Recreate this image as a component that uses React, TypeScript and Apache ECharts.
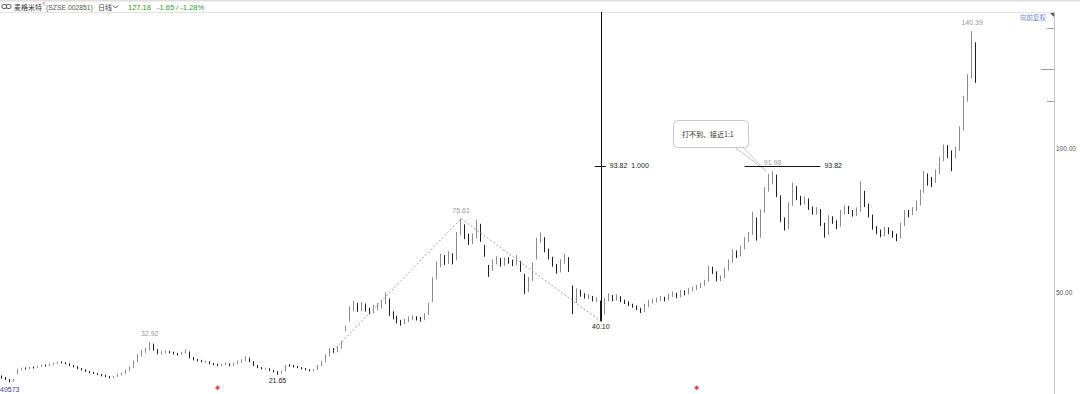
import React, { useEffect, useRef } from "react";
import * as echarts from "echarts";

// daily candles: [open, close, low, high]
const candles: number[][] = [
  [21.0, 20.7, 20.3, 21.4], [20.7, 20.0, 19.8, 20.9], [20.0, 19.3, 19.0, 20.2], [19.4, 20.0, 19.2, 20.3],
  [22.0, 23.4, 21.8, 23.7], [23.4, 23.8, 23.2, 24.1], [23.9, 23.8, 23.5, 24.2], [23.8, 24.1, 23.6, 24.4],
  [24.2, 24.1, 23.8, 24.5], [24.1, 24.5, 24.0, 24.8], [24.5, 24.8, 24.3, 25.1], [24.9, 24.8, 24.5, 25.2],
  [24.8, 25.2, 24.7, 25.5], [25.2, 25.5, 25.0, 25.8], [25.5, 25.9, 25.3, 26.2], [26.0, 25.9, 25.6, 26.3],
  [25.9, 25.5, 25.3, 26.0], [25.5, 24.8, 24.6, 25.6], [24.8, 24.5, 24.2, 25.0], [24.5, 23.8, 23.6, 24.6],
  [23.8, 23.4, 23.1, 24.0], [23.4, 22.8, 22.6, 23.5], [22.8, 22.4, 22.1, 23.0], [22.4, 22.1, 21.9, 22.6],
  [22.1, 21.7, 21.5, 22.2], [21.7, 21.4, 21.1, 21.9], [21.4, 21.0, 20.8, 21.6], [21.0, 20.7, 20.4, 21.2],
  [20.7, 21.0, 20.5, 21.3], [21.0, 21.7, 20.9, 22.0], [21.7, 22.1, 21.5, 22.4], [22.2, 23.1, 22.0, 23.4],
  [23.1, 24.1, 22.9, 24.5], [24.2, 26.2, 24.0, 26.6], [26.3, 28.3, 26.0, 28.8], [28.2, 29.7, 27.9, 30.2],
  [29.6, 30.3, 29.2, 31.0], [30.4, 32.1, 30.0, 32.92], [32.0, 30.3, 30.0, 32.4], [30.2, 29.0, 28.7, 30.5],
  [29.0, 29.3, 28.6, 29.8], [29.2, 29.7, 29.0, 30.1], [29.7, 29.3, 29.0, 29.9], [29.3, 29.0, 28.7, 29.6],
  [29.0, 28.6, 28.3, 29.2], [28.7, 29.3, 28.5, 29.6], [29.2, 29.7, 29.0, 30.4], [29.5, 27.6, 27.3, 29.7],
  [27.6, 26.9, 26.6, 27.8], [26.9, 26.6, 26.3, 27.1], [26.6, 26.2, 26.0, 26.8], [26.1, 26.2, 25.8, 26.5],
  [26.2, 25.5, 25.3, 26.3], [25.5, 25.2, 24.9, 25.7], [25.2, 24.8, 24.6, 25.4], [24.8, 25.2, 24.6, 25.5],
  [25.2, 25.5, 25.0, 25.8], [25.4, 24.8, 24.6, 25.6], [24.9, 25.5, 24.7, 25.8], [25.5, 26.2, 25.3, 26.6],
  [26.1, 26.6, 25.8, 27.0], [26.6, 27.6, 26.3, 28.0], [27.4, 26.2, 26.0, 27.6], [26.2, 24.8, 24.6, 26.4],
  [24.8, 24.1, 23.9, 25.0], [24.1, 23.8, 23.5, 24.3], [23.7, 23.8, 23.4, 24.1], [23.8, 23.1, 22.9, 23.9],
  [23.1, 22.8, 22.5, 23.3], [22.8, 22.4, 21.65, 22.9], [22.3, 22.8, 22.0, 23.1], [22.9, 24.8, 22.8, 25.1],
  [24.9, 24.8, 24.4, 25.3], [24.8, 24.5, 24.2, 25.0], [24.5, 24.1, 23.9, 24.7], [24.1, 23.8, 23.5, 24.3],
  [23.8, 23.4, 23.2, 24.0], [23.4, 23.1, 22.8, 23.6], [23.1, 23.4, 22.9, 23.7], [23.5, 24.8, 23.3, 25.1],
  [24.9, 26.2, 24.6, 26.5], [26.3, 28.3, 26.0, 28.7], [28.4, 30.3, 28.0, 30.8], [30.2, 29.7, 29.2, 30.9],
  [29.8, 31.0, 29.4, 31.6], [31.0, 32.8, 30.7, 33.4], [37.0, 37.9, 36.6, 38.6], [40.5, 44.1, 40.0, 45.3],
  [44.2, 45.9, 43.6, 47.2], [45.8, 44.1, 43.4, 46.5], [44.0, 45.9, 43.6, 46.8], [45.7, 44.1, 43.5, 46.3],
  [44.3, 43.1, 42.5, 44.8], [43.0, 44.8, 42.8, 45.8], [44.7, 45.2, 44.0, 46.4], [45.0, 46.2, 44.6, 47.6],
  [46.3, 49.0, 46.0, 50.1], [47.5, 42.4, 42.0, 48.0], [42.6, 41.4, 40.8, 43.6], [41.5, 40.0, 39.4, 42.0],
  [40.2, 39.3, 38.6, 40.6], [39.4, 40.3, 39.0, 41.0], [40.2, 41.0, 39.8, 41.8], [41.0, 41.4, 40.5, 42.2],
  [41.5, 41.0, 40.4, 41.9], [41.1, 40.7, 40.0, 41.6], [40.8, 42.4, 40.5, 43.0], [42.5, 45.9, 42.3, 46.5],
  [47.0, 54.5, 46.8, 55.3], [55.0, 59.7, 54.6, 60.8], [59.5, 62.1, 58.8, 63.5], [62.0, 60.7, 59.6, 63.0],
  [60.5, 62.8, 60.0, 64.3], [62.9, 60.7, 59.8, 63.6], [61.5, 70.0, 61.2, 71.0], [70.2, 73.4, 69.8, 75.61],
  [73.0, 69.3, 68.5, 73.6], [69.5, 68.3, 66.5, 70.4], [68.2, 69.0, 66.8, 70.5], [69.2, 73.4, 68.8, 75.3],
  [73.0, 68.3, 67.6, 73.8], [66.0, 63.1, 62.4, 66.5], [59.0, 57.9, 55.5, 59.6], [58.2, 60.7, 57.6, 61.5],
  [60.5, 61.4, 59.8, 62.6], [61.2, 59.7, 59.0, 62.0], [59.8, 61.4, 59.3, 62.2], [61.5, 60.7, 60.0, 62.3],
  [60.8, 60.0, 59.2, 61.4], [60.1, 60.7, 59.5, 63.0], [60.5, 57.9, 57.2, 61.0], [56.0, 50.3, 49.6, 56.5],
  [50.8, 54.5, 50.2, 55.4], [54.6, 59.7, 54.0, 60.5], [62.0, 68.3, 61.5, 69.0], [68.5, 69.0, 67.2, 70.8],
  [68.6, 64.8, 64.0, 69.2], [64.7, 62.1, 61.5, 65.2], [62.0, 59.7, 59.0, 62.4], [59.5, 57.2, 56.6, 59.9],
  [57.5, 60.7, 57.0, 61.6], [60.5, 62.1, 60.0, 63.4], [61.8, 57.9, 57.2, 62.3], [51.5, 46.5, 42.6, 52.5],
  [47.0, 50.3, 46.5, 51.5], [50.2, 49.3, 48.6, 51.0], [49.2, 48.6, 48.0, 49.8], [48.4, 48.6, 47.8, 49.5],
  [48.5, 47.6, 47.0, 48.9], [47.4, 47.6, 46.8, 48.4], [47.0, 42.4, 40.1, 47.3], [43.0, 47.6, 42.5, 48.2],
  [47.5, 49.0, 47.0, 49.8], [48.8, 47.6, 47.1, 49.2], [47.7, 48.6, 47.3, 49.4], [48.5, 47.2, 46.8, 48.8],
  [47.2, 46.6, 46.1, 47.6], [46.6, 45.9, 45.4, 47.0], [45.9, 45.2, 44.8, 46.2], [45.2, 44.5, 44.0, 45.6],
  [44.4, 43.4, 43.0, 44.8], [43.6, 45.5, 43.3, 46.2], [45.4, 46.9, 45.0, 47.5], [46.8, 47.2, 46.2, 47.9],
  [47.1, 47.6, 46.6, 48.3], [47.6, 48.3, 47.2, 48.9], [48.2, 47.6, 47.0, 48.6], [47.7, 49.0, 47.4, 49.6],
  [49.0, 49.7, 48.5, 50.4], [49.6, 48.6, 48.1, 50.0], [48.7, 50.3, 48.4, 51.0], [50.2, 49.7, 49.1, 50.8],
  [49.8, 51.0, 49.4, 51.6], [50.9, 51.4, 50.4, 52.0], [51.3, 52.1, 50.9, 52.7], [52.0, 52.8, 51.6, 53.4],
  [52.9, 53.8, 52.4, 54.5], [54.0, 58.6, 53.8, 59.4], [58.4, 57.2, 56.5, 59.0], [57.0, 54.5, 53.9, 57.4],
  [54.6, 55.2, 54.0, 56.0], [55.3, 57.9, 55.0, 58.6], [58.0, 60.7, 57.6, 61.5], [60.8, 64.1, 60.3, 65.0],
  [64.0, 62.8, 62.0, 64.6], [62.9, 65.5, 62.5, 66.3], [65.6, 68.3, 65.0, 69.2], [68.2, 70.0, 67.5, 71.0],
  [70.2, 76.9, 70.0, 78.0], [75.5, 69.0, 68.0, 76.0], [69.5, 77.9, 69.0, 78.8], [78.0, 85.5, 77.6, 86.5],
  [85.6, 89.7, 85.0, 91.0], [89.5, 90.7, 87.5, 91.98], [90.2, 83.8, 83.0, 90.8], [83.0, 75.2, 74.5, 83.6],
  [75.0, 72.4, 71.5, 76.0], [72.8, 80.3, 72.0, 81.2], [80.5, 86.2, 80.0, 88.0], [86.0, 82.8, 82.0, 86.8],
  [82.9, 81.0, 80.2, 83.5], [81.0, 82.1, 80.5, 83.2], [82.0, 79.3, 78.6, 82.6], [79.2, 77.9, 77.0, 79.8],
  [77.8, 78.6, 77.0, 79.6], [78.4, 73.8, 73.0, 78.9], [73.6, 70.0, 69.0, 74.2], [70.4, 75.9, 70.0, 76.8],
  [75.8, 74.5, 73.8, 76.4], [74.6, 73.1, 72.0, 75.0], [73.2, 77.9, 72.8, 78.6], [77.8, 79.3, 77.0, 80.2],
  [79.2, 77.9, 77.2, 80.0], [78.0, 77.2, 76.3, 78.6], [77.0, 77.9, 76.5, 79.5], [78.5, 84.8, 78.0, 88.5],
  [84.5, 80.3, 79.6, 85.2], [80.2, 76.9, 76.0, 80.8], [76.6, 72.4, 71.8, 77.0], [72.5, 71.0, 70.2, 73.0],
  [71.2, 70.0, 69.2, 71.8], [70.1, 72.1, 69.5, 72.8], [72.0, 71.0, 70.2, 72.6], [71.0, 69.7, 69.0, 71.4],
  [69.8, 69.0, 67.8, 70.4], [69.2, 73.4, 68.8, 74.2], [73.5, 77.6, 73.0, 78.5], [77.8, 77.2, 76.0, 78.6],
  [77.2, 78.6, 76.8, 79.6], [78.7, 80.7, 78.2, 81.8], [80.8, 84.5, 80.2, 85.6], [84.8, 90.7, 84.5, 92.0],
  [90.5, 89.0, 87.0, 91.2], [89.2, 88.3, 86.5, 90.0], [88.4, 91.4, 88.0, 92.6], [91.6, 95.9, 91.0, 97.0],
  [96.0, 100.0, 95.4, 101.2], [100.2, 98.6, 96.5, 101.0], [98.5, 96.9, 92.0, 99.2], [97.0, 99.3, 96.4, 100.5],
  [99.5, 106.2, 99.0, 107.5], [106.5, 116.6, 106.0, 118.0], [116.8, 124.1, 116.0, 125.5], [124.5, 135.5, 124.0, 140.39],
  [134.8, 127.18, 122.5, 136.5],
];

const totalSlots = 264; // candle slots across the plot, including the empty right margin
const slotLabels = Array.from({ length: totalSlots }, (_, i) => String(i + 1));

const yTickLabels = [50, 100];

// annotation texts anchored in data space: [index, value, text]
const highLabels: [number, number, string][] = [
  [37, 32.92, "32.92"],
  [115, 75.61, "75.61"],
  [193, 91.98, "91.98"],
  [243, 140.39, "140.39"],
];
const lowLabels: [number, number, string][] = [
  [69, 21.65, "21.65"],
  [150, 40.1, "40.10"],
];
const swingFrom = [83, 30.0];
const swingPeak = [115, 75.61];
const swingLow = [150, 40.1];
const targetLine = { from: 186, to: 205, value: 93.82 };
const ratioText = "93.82  1.000";
const noteText = "打不到、接近1:1";
const eventMarks = [
  [54, 17.2],
  [174, 17.2],
];
const rightMarks = [141.4, 127.18, 116.2];

const NUM_FONT = '"Liberation Sans", Arial, sans-serif';
const CJK_FONT = '"Noto Sans CJK SC", "Liberation Sans", sans-serif';

export default function App() {
  const ref = useRef<HTMLDivElement>(null);

  useEffect(() => {
    document.body.style.margin = "0";
    const el = ref.current!;
    const chart = echarts.init(el, null, { renderer: "svg" });
    const dotted = { color: "#a0a0a0", type: [2, 2] as any, width: 1 };
    const solid = { color: "#111", type: "solid" as any, width: 1 };
    chart.setOption({
      animation: false,
      backgroundColor: "#ffffff",
      grid: { left: -2, right: 26, top: 12, bottom: 0 },
      xAxis: {
        type: "category",
        data: slotLabels,
        boundaryGap: true,
        axisLine: { show: false },
        axisTick: { show: false },
        axisLabel: { show: false },
        splitLine: { show: false },
      },
      yAxis: {
        type: "value",
        position: "right",
        min: 15,
        max: 147,
        interval: 5,
        axisLine: { show: true, lineStyle: { color: "#c4c4c4" } },
        axisTick: { show: false },
        splitLine: { show: false },
        axisLabel: {
          margin: 2,
          fontSize: 6.5,
          color: "#555",
          fontFamily: NUM_FONT,
          formatter: (v: number) => (yTickLabels.includes(v) ? v.toFixed(2) : ""),
        },
      },
      series: [
        {
          type: "candlestick",
          data: candles,
          barWidth: 1,
          itemStyle: {
            color: "#ffffff",
            color0: "#1e1e1e",
            borderColor: "#8c8c8c",
            borderColor0: "#1e1e1e",
            borderWidth: 1,
          },
          markLine: {
            silent: true,
            symbol: "none",
            label: { show: false },
            data: [
              [{ coord: swingFrom, lineStyle: dotted }, { coord: swingPeak }],
              [{ coord: swingPeak, lineStyle: dotted }, { coord: swingLow }],
              [{ coord: swingLow, lineStyle: solid }, { coord: [swingLow[0], 147] }],
              [
                { coord: [targetLine.from, targetLine.value], lineStyle: solid },
                { coord: [targetLine.to, targetLine.value] },
              ],
            ],
          },
        },
        {
          type: "scatter",
          data: eventMarks,
          symbol: "diamond",
          symbolSize: 5,
          itemStyle: { color: "#e0201c" },
          silent: true,
        },
      ],
    });

    const px = (i: number, v: number) => chart.convertToPixel({ gridIndex: 0 }, [i, v]) as number[];
    const g: any[] = [];

    // header
    g.push({ type: "rect", shape: { x: 0, y: 0, width: 1080, height: 1.5 }, style: { fill: "#dedede" } });
    g.push({ type: "line", shape: { x1: 0, y1: 12.5, x2: 1054, y2: 12.5 }, style: { stroke: "#e4e4e4", lineWidth: 1 } });
    g.push({ type: "rect", shape: { x: 2, y: 4.5, width: 4.5, height: 4, r: 1.5 }, style: { fill: "none", stroke: "#555", lineWidth: 1 } });
    g.push({ type: "rect", shape: { x: 6.5, y: 4.5, width: 4.5, height: 4, r: 1.5 }, style: { fill: "none", stroke: "#555", lineWidth: 1 } });
    const head = (x: number, text: string, color: string, font = CJK_FONT, size = 7) =>
      g.push({ type: "text", x, y: 7, style: { text, fill: color, font: `${size}px ${font}`, verticalAlign: "middle" } });
    head(14, "麦格米特", "#333");
    g.push({ type: "text", x: 42.5, y: 3.5, style: { text: "R", fill: "#e04040", font: `4px ${NUM_FONT}`, verticalAlign: "middle" } });
    head(46, "(SZSE 002851)", "#555", NUM_FONT, 6.8);
    head(98, "日线", "#444");
    g.push({ type: "polyline", shape: { points: [[113, 5.5], [115.5, 8], [118, 5.5]] }, style: { stroke: "#555", lineWidth: 1, fill: "none" } });
    head(128, "127.18", "#2a9a2a", NUM_FONT, 7.5);
    head(157, "-1.65 / -1.28%", "#2a9a2a", NUM_FONT, 7.5);

    // top right
    g.push({ type: "text", x: 1020, y: 17, style: { text: "向前复权", fill: "#6f82d6", font: `6.5px ${CJK_FONT}`, verticalAlign: "middle" } });
    g.push({ type: "polygon", shape: { points: [[1050, 13], [1054, 13], [1054, 17]] }, style: { fill: "#555" } });

    // short marks on the price axis
    rightMarks.forEach((v, k) => {
      const [ax, ay] = px(totalSlots - 1, v);
      const axisX = ax + 2;
      const len = k === 1 ? 13 : 7;
      g.push({ type: "line", shape: { x1: axisX - len, y1: Math.round(ay) + 0.5, x2: axisX, y2: Math.round(ay) + 0.5 }, style: { stroke: "#9a9a9a", lineWidth: 1 } });
    });

    // high / low labels
    highLabels.forEach(([i, v, t]) => {
      const [x, y] = px(i, v);
      g.push({ type: "text", x, y: y - 5, style: { text: t, fill: "#999", font: `7px ${NUM_FONT}`, align: "center", verticalAlign: "bottom" } });
    });
    lowLabels.forEach(([i, v, t]) => {
      const [x, y] = px(i, v);
      g.push({ type: "text", x, y: y + 2, style: { text: t, fill: "#222", font: `7px ${NUM_FONT}`, align: "center", verticalAlign: "top" } });
    });

    // cross tick and ratio text on the vertical line
    const [vx, vy] = px(swingLow[0], targetLine.value);
    g.push({ type: "line", shape: { x1: vx - 6, y1: Math.round(vy) + 0.5, x2: vx + 5, y2: Math.round(vy) + 0.5 }, style: { stroke: "#111", lineWidth: 1 } });
    g.push({ type: "text", x: vx + 9, y: vy, style: { text: ratioText, fill: "#222", font: `7px ${NUM_FONT}`, verticalAlign: "middle" } });

    // target line label
    const [tx, ty] = px(targetLine.to, targetLine.value);
    g.push({ type: "text", x: tx + 4, y: ty, style: { text: targetLine.value.toFixed(2), fill: "#222", font: `7px ${NUM_FONT}`, verticalAlign: "middle" } });

    // callout
    const [cx, cy] = px(193, 91.98);
    g.push({ type: "polyline", shape: { points: [[cx - 38, 147], [cx - 6, cy], [cx - 30, 147]] }, style: { stroke: "#c4c4c4", lineWidth: 1, fill: "none" } });
    g.push({ type: "rect", shape: { x: 673.5, y: 120.5, width: 75, height: 27, r: 4 }, style: { fill: "#fff", stroke: "#c8c8c8", lineWidth: 1 } });
    g.push({ type: "text", x: 682, y: 134, style: { text: noteText, fill: "#333", font: `7px ${CJK_FONT}`, verticalAlign: "middle" } });

    // bottom-left label
    g.push({ type: "text", x: 0, y: 389, style: { text: "49573", fill: "#3d3d8c", font: `7px ${NUM_FONT}`, verticalAlign: "middle" } });

    chart.setOption({ graphic: g });

    return () => chart.dispose();
  }, []);

  return <div ref={ref} style={{ width: 1080, height: 394 }} />;
}
